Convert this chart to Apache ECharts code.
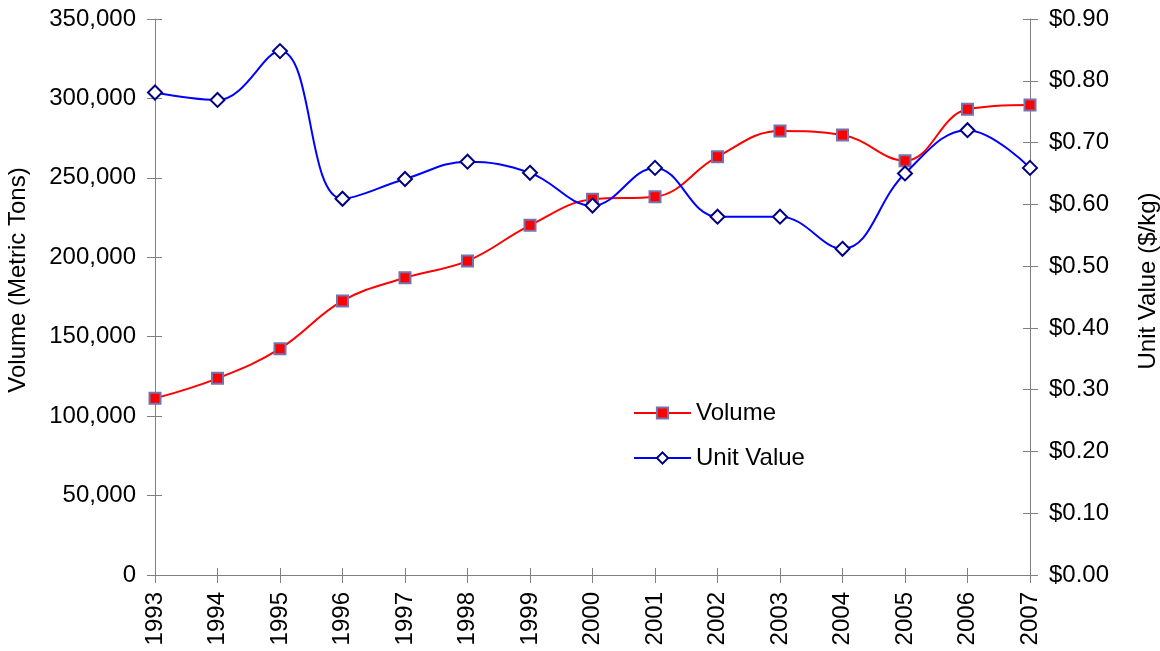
<!DOCTYPE html>
<html>
<head>
<meta charset="utf-8">
<script src="https://cdn.jsdelivr.net/npm/echarts@6/dist/echarts.min.js"></script>
<style>
  html, body { margin: 0; padding: 0; background: #fff; }
  #main { width: 1160px; height: 651px; }
</style>
</head>
<body>
<div id="main"></div>
<script>
// data
var years = ['1993', '1994', '1995', '1996', '1997', '1998', '1999', '2000',
             '2001', '2002', '2003', '2004', '2005', '2006', '2007'];
var volume = [111200, 123800, 142500, 172500, 187100, 197700, 220100, 236500,
              238100, 263300, 279500, 277000, 260800, 293200, 295900];
var unitValue = [0.781, 0.769, 0.848, 0.609, 0.641, 0.669, 0.651, 0.598,
                 0.659, 0.580, 0.580, 0.528, 0.650, 0.720, 0.659];

var font = 'Liberation Sans, Arial, sans-serif';
var gray = '#808080';

// 基于准备好的dom，初始化echarts实例
var myChart = echarts.init(document.getElementById('main'));

// axes drawn twice so the ticks cross the axis line (outside + inside)
function yAxisBase(pos, max, interval, fmt) {
    return {
        type: 'value',
        position: pos,
        min: 0,
        max: max,
        interval: interval,
        splitLine: { show: false },
        axisLine: { show: true, lineStyle: { color: gray, width: 1 } },
        axisTick: { show: true, length: 8, lineStyle: { color: gray } },
        axisLabel: { color: '#000', fontFamily: font, fontSize: 24, margin: 19, formatter: fmt }
    };
}

var yLeft = yAxisBase('left', 350000, 50000, function (v) {
    return v.toLocaleString('en-US');
});
yLeft.name = 'Volume (Metric Tons)';
yLeft.nameLocation = 'middle';
yLeft.nameRotate = 90;
yLeft.nameGap = 125;
yLeft.nameTextStyle = { color: '#000', fontFamily: font, fontSize: 24, padding: [0, 0, 0, 34] };

var yRight = yAxisBase('right', 0.9, 0.1, function (v) {
    return '$' + v.toFixed(2);
});
yRight.name = 'Unit Value ($/kg)';
yRight.nameLocation = 'middle';
yRight.nameRotate = 90;
yRight.nameGap = 106;
yRight.nameTextStyle = { color: '#000', fontFamily: font, fontSize: 24, padding: [0, 0, 0, 32] };

function innerY(pos, max, interval) {
    return {
        type: 'value', position: pos, min: 0, max: max, interval: interval,
        splitLine: { show: false },
        axisLine: { show: false },
        axisLabel: { show: false },
        axisTick: { show: true, inside: true, length: 7, lineStyle: { color: gray } }
    };
}

var option = {
    animation: false,
    backgroundColor: '#fff',
    grid: { left: 155, right: 130, top: 19, bottom: 76, containLabel: false, outerBoundsMode: 'none' },
    legend: {
        orient: 'vertical',
        left: 628,
        top: 396,
        padding: 5,
        itemWidth: 57,
        itemHeight: 14,
        itemGap: 21,
        textStyle: { color: '#000', fontFamily: font, fontSize: 24 },
        data: ['Volume', 'Unit Value']
    },
    xAxis: [
        {
            type: 'category',
            position: 'bottom',
            data: years,
            boundaryGap: false,
            axisLine: { show: true, lineStyle: { color: gray, width: 1 } },
            axisTick: { show: true, length: 8, lineStyle: { color: gray } },
            axisLabel: { color: '#000', fontFamily: font, fontSize: 24, rotate: 90, margin: 17, interval: 0 }
        },
        {
            type: 'category',
            position: 'bottom',
            data: years,
            boundaryGap: false,
            axisLine: { show: false },
            axisLabel: { show: false },
            axisTick: { show: true, inside: true, length: 7, lineStyle: { color: gray } }
        }
    ],
    yAxis: [yLeft, yRight, innerY('left', 350000, 50000), innerY('right', 0.9, 0.1)],
    series: [
        {
            name: 'Volume',
            type: 'line',
            yAxisIndex: 0,
            data: volume,
            smooth: 0.4,
            symbol: 'rect',
            symbolSize: 11,
            lineStyle: { color: '#ff0000', width: 2 },
            itemStyle: { color: '#ff0000', borderColor: '#7474b0', borderWidth: 2 },
            z: 2
        },
        {
            name: 'Unit Value',
            type: 'line',
            yAxisIndex: 1,
            data: unitValue,
            smooth: 0.4,
            symbol: 'diamond',
            symbolSize: 14,
            lineStyle: { color: '#0000ff', width: 2 },
            itemStyle: { color: '#ffffff', borderColor: '#000080', borderWidth: 2 },
            z: 3
        }
    ]
};

// 绘制图表
myChart.setOption(option);
</script>
</body>
</html>
